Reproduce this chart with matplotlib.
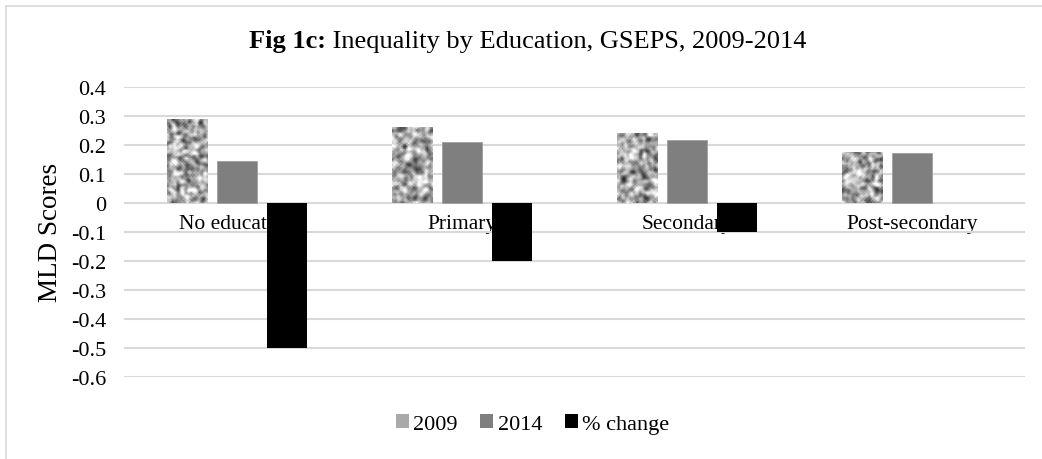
import numpy as np
import matplotlib
matplotlib.use("Agg")
import matplotlib.pyplot as plt
from matplotlib.patches import Patch
from matplotlib.lines import Line2D
from matplotlib.ticker import FuncFormatter

plt.rcParams['font.family'] = ['Liberation Serif', 'DejaVu Serif']
plt.rcParams['axes.unicode_minus'] = False

categories = ["No education", "Primary", "Secondary", "Post-secondary"]
mld_2009 = [0.288, 0.262, 0.241, 0.176]
mld_2014 = [0.145, 0.210, 0.217, 0.173]
pct_change = [-0.50, -0.20, -0.10, 0.0]
series_names = ["2009", "2014", "% change"]

fig = plt.figure(figsize=(10.42, 4.6), dpi=100)
ax = fig.add_axes([0.119, 0.178, 0.8647, 0.6313])

x = np.arange(len(categories))
w = 0.178
step = 0.222


def granite(rows, cols, rng):
    # smoothed noise used as a stone-like fill
    t = rng.random((rows, cols))
    for _ in range(2):
        t = (t + np.roll(t, 1, 0) + np.roll(t, -1, 0)
             + np.roll(t, 1, 1) + np.roll(t, -1, 1)) / 5.0
    return (t - t.mean()) / t.std()


rng = np.random.default_rng(11)
bars09 = ax.bar(x - step, mld_2009, w, color="#a8a8a8", linewidth=0, zorder=2)
for b in bars09:
    x0, y0 = b.get_x(), b.get_y()
    tex = granite(max(int(b.get_height() * 290 / 1.6), 4), 26, rng)
    im = ax.imshow(tex, extent=[x0, x0 + b.get_width(), y0, y0 + b.get_height()],
                   aspect="auto", cmap="gray", vmin=-3.8, vmax=2.0,
                   interpolation="bilinear", zorder=3)
    im.set_clip_path(b)

ax.bar(x, mld_2014, w, color="#7f7f7f", edgecolor="#a0a0a0", linewidth=0.6, zorder=2)
ax.bar(x + step, pct_change, w, color="#000000", linewidth=0, zorder=2)

ax.set_xlim(-0.5, len(categories) - 0.5)
ax.set_ylim(-0.6, 0.4)
ax.set_yticks(np.arange(-0.6, 0.41, 0.1))
ax.yaxis.set_major_formatter(FuncFormatter(lambda v, p: "0" if abs(v) < 1e-9 else f"{v:.1f}"))
ax.grid(axis="y", color="#d9d9d9", linewidth=1.5)
ax.set_axisbelow(True)

ax.set_xticks(x)
ax.set_xticklabels(categories)
ax.spines["bottom"].set_position(("data", 0))
for s in ax.spines.values():
    s.set_visible(False)
ax.tick_params(axis="both", length=0)
ax.tick_params(axis="x", pad=8, labelsize=15.5)
ax.tick_params(axis="y", labelsize=16, pad=13)

fig.text(0.048, 0.495, "MLD Scores", rotation=90, fontsize=19.5,
         ha="center", va="center")

# title: bold prefix followed by regular text, centred together
t1 = fig.text(0, 0.896, "Fig 1c:", fontsize=19, fontweight="bold", va="baseline")
t2 = fig.text(0, 0.896, " Inequality by Education, GSEPS, 2009-2014", fontsize=19, va="baseline")
fig.canvas.draw()
r = fig.canvas.get_renderer()
w1 = t1.get_window_extent(r).width
w2 = t2.get_window_extent(r).width
start = 528 - (w1 + w2) / 2
t1.set_x(start / 1042)
t2.set_x((start + w1) / 1042)

handles = [Patch(facecolor="#a9a9a9"), Patch(facecolor="#7f7f7f"), Patch(facecolor="#000000")]
fig.legend(handles, series_names, loc="center", bbox_to_anchor=(0.511, 0.076),
           ncol=3, frameon=False, fontsize=16, handlelength=0.6, handleheight=0.6,
           handletextpad=0.2, columnspacing=1.0)

# chart frame (left and top edges)
fig.add_artist(Line2D([6 / 1042, 6 / 1042], [0, 1 - 7 / 460], color="#d9d9d9", linewidth=1.2))
fig.add_artist(Line2D([6 / 1042, 1], [1 - 7 / 460, 1 - 7 / 460], color="#d9d9d9", linewidth=1.2))

fig.savefig("out.png", dpi=100)
